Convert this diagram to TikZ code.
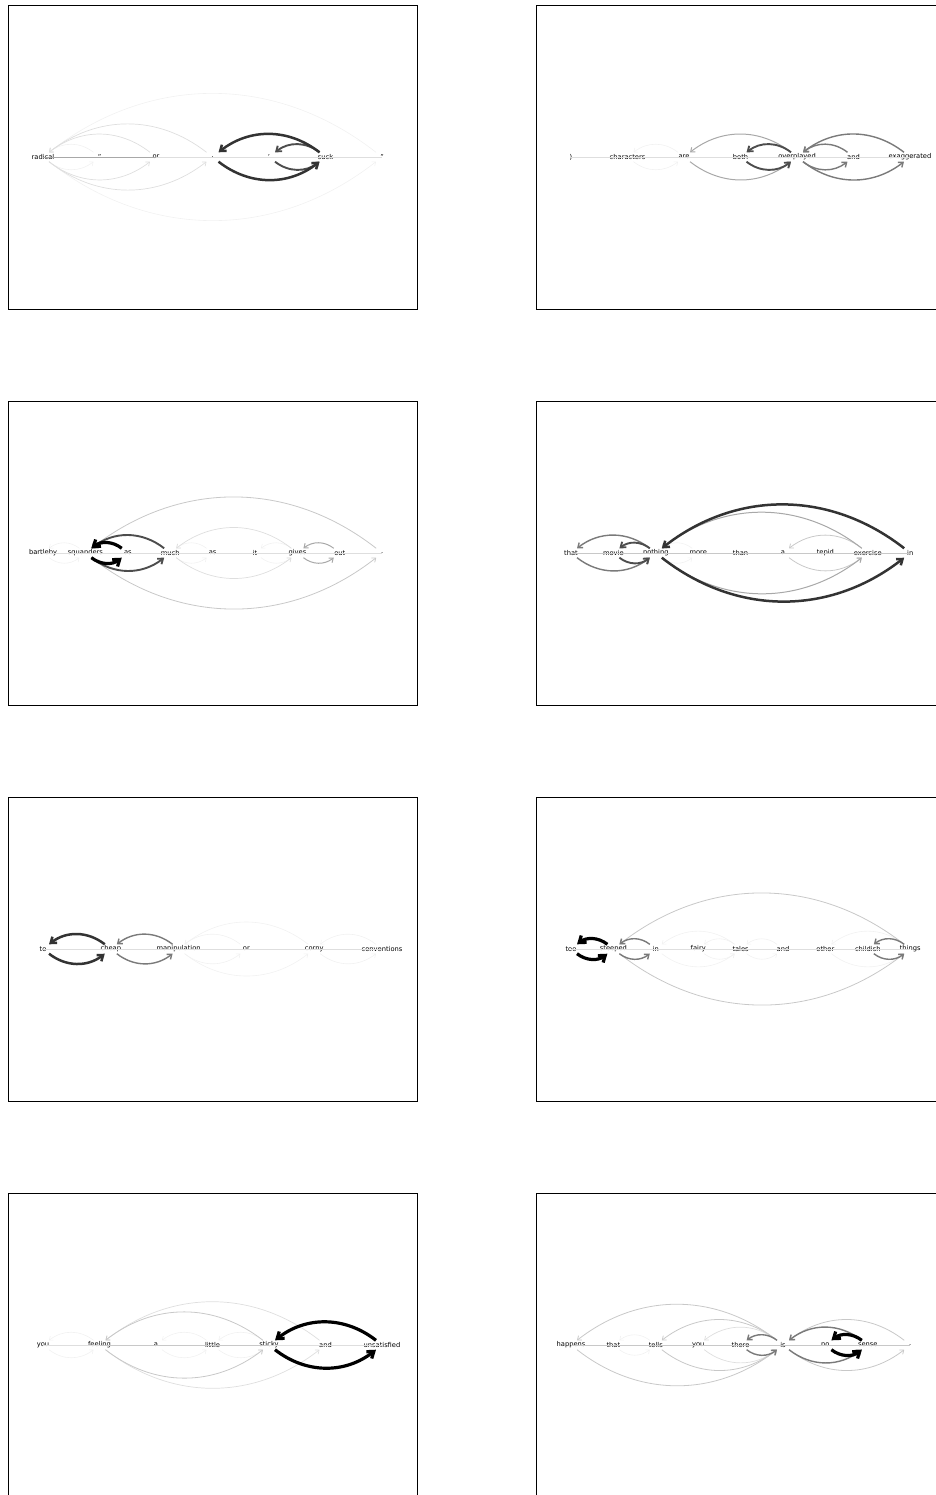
\documentclass[tikz,border=0pt]{standalone}
\usepackage{fontspec}
\setmainfont{DejaVu Sans}
\usetikzlibrary{
arrows.meta,
positioning
}
\definecolor{AttDark}{HTML}{333333}
\definecolor{AttMid}{HTML}{4D4D4D}
\definecolor{AttGray}{HTML}{7A7A7A}
\definecolor{AttLight}{HTML}{A8A8A8}
\definecolor{AttPale}{HTML}{C8C8C8}
\definecolor{AttFaint}{HTML}{DEDEDE}
\definecolor{AttGhost}{HTML}{F1F1F1}
\tikzset{
attframe/.style={draw=black, line width=0.9pt},
atttok/.style={inner sep=0pt, minimum width=12pt, minimum height=9pt,
  font=\fontsize{6.7}{8}\selectfont},
attaxis/.style={draw=AttFaint, line width=0.9pt},
attarrow/.style={-{Straight Barb[length=2.5pt 1.1, width=4.5pt 1.3]}, bend right=38, looseness=1},
attblack/.style={attarrow, draw=black, line width=3.2pt},
attdark/.style={attarrow, draw=AttDark, line width=2.5pt},
attmid/.style={attarrow, draw=AttMid, line width=1.9pt},
attgray/.style={attarrow, draw=AttGray, line width=1.4pt},
attlight/.style={attarrow, draw=AttLight, line width=1pt},
attpale/.style={attarrow, draw=AttPale, line width=0.8pt},
attfaint/.style={attarrow, draw=AttFaint, line width=0.7pt},
attghost/.style={attarrow, draw=AttGhost, line width=0.6pt}
}
\begin{document}
\begin{tikzpicture}[x=1pt, y=1pt]
\useasboundingbox (0,0) rectangle (935,-1495);

% row 1, left
\begin{scope}[shift={(8,-5)}, node distance=56.5pt, on grid]
\draw[attframe] (0,0) rectangle (409,-304);
\node[atttok] (a1) at (35,-152) {radical};
\node[atttok, right=of a1] (a2) {"};
\node[atttok, right=of a2] (a3) {or};
\node[atttok, right=of a3] (a4) {,};
\node[atttok, right=of a4] (a5) {'};
\node[atttok, right=of a5] (a6) {suck};
\node[atttok, right=of a6] (a7) {"};
\draw[attaxis] (a3.center) -- (a7.center);
\draw[attaxis, draw=AttLight] (a1.center) -- (a3.center);
\draw[attghost] (a7) to (a1);
\draw[attghost] (a1) to (a7);
\draw[attghost] (a2) to (a1);
\draw[attghost] (a1) to (a2);
\draw[attfaint] (a3) to (a1);
\draw[attfaint] (a1) to (a3);
\draw[attfaint] (a4) to (a1);
\draw[attfaint] (a1) to (a4);
\draw[attmid] (a6) to (a5);
\draw[attmid] (a5) to (a6);
\draw[attdark] (a6) to (a4);
\draw[attdark] (a4) to (a6);
\end{scope}

% row 1, right
\begin{scope}[shift={(536,-5)}, node distance=56.5pt, on grid]
\draw[attframe] (0,0) rectangle (409,-304);
\node[atttok] (b1) at (35,-152) {)};
\node[atttok, right=of b1] (b2) {characters};
\node[atttok, right=of b2] (b3) {are};
\node[atttok, right=of b3] (b4) {both};
\node[atttok, right=of b4] (b5) {overplayed};
\node[atttok, right=of b5] (b6) {and};
\node[atttok, right=of b6] (b7) {exaggerated};
\draw[attaxis] (b1.center) -- (b7.center);
\draw[attghost] (b3) to (b2);
\draw[attghost] (b2) to (b3);
\draw[attlight] (b5) to (b3);
\draw[attlight] (b3) to (b5);
\draw[attgray] (b7) to (b5);
\draw[attgray] (b5) to (b7);
\draw[attgray] (b6) to (b5);
\draw[attgray] (b5) to (b6);
\draw[attmid] (b5) to (b4);
\draw[attmid] (b4) to (b5);
\end{scope}

% row 2, left
\begin{scope}[shift={(8,-401)}, node distance=42.4pt, on grid]
\draw[attframe] (0,0) rectangle (409,-304);
\node[atttok] (c1) at (35,-152) {bartleby};
\node[atttok, right=of c1] (c2) {squanders};
\node[atttok, right=of c2] (c3) {as};
\node[atttok, right=of c3] (c4) {much};
\node[atttok, right=of c4] (c5) {as};
\node[atttok, right=of c5] (c6) {it};
\node[atttok, right=of c6] (c7) {gives};
\node[atttok, right=of c7] (c8) {out};
\node[atttok, right=of c8] (c9) {.};
\draw[attaxis] (c1.center) -- (c9.center);
\draw[attghost] (c2) to (c1);
\draw[attghost] (c1) to (c2);
\draw[attghost] (c5) to (c4);
\draw[attghost] (c4) to (c5);
\draw[attghost] (c7) to (c6);
\draw[attghost] (c6) to (c7);
\draw[attfaint] (c7) to (c4);
\draw[attfaint] (c4) to (c7);
\draw[attpale] (c9) to (c2);
\draw[attpale] (c2) to (c9);
\draw[attlight] (c8) to (c7);
\draw[attlight] (c7) to (c8);
\draw[attmid] (c4) to (c2);
\draw[attmid] (c2) to (c4);
\draw[attblack] (c3) to (c2);
\draw[attblack] (c2) to (c3);
\end{scope}

% row 2, right
\begin{scope}[shift={(536,-401)}, node distance=42.4pt, on grid]
\draw[attframe] (0,0) rectangle (409,-304);
\node[atttok] (d1) at (35,-152) {that};
\node[atttok, right=of d1] (d2) {movie};
\node[atttok, right=of d2] (d3) {nothing};
\node[atttok, right=of d3] (d4) {more};
\node[atttok, right=of d4] (d5) {than};
\node[atttok, right=of d5] (d6) {a};
\node[atttok, right=of d6] (d7) {tepid};
\node[atttok, right=of d7] (d8) {exercise};
\node[atttok, right=of d8] (d9) {in};
\draw[attaxis, draw=AttPale] (d1.center) -- (d9.center);
\draw[attghost] (d4) to (d3);
\draw[attghost] (d3) to (d4);
\draw[attpale] (d8) to (d6);
\draw[attpale] (d6) to (d8);
\draw[attlight] (d8) to (d3);
\draw[attlight] (d3) to (d8);
\draw[attgray] (d3) to (d1);
\draw[attgray] (d1) to (d3);
\draw[attmid] (d3) to (d2);
\draw[attmid] (d2) to (d3);
\draw[attdark] (d9) to (d3);
\draw[attdark] (d3) to (d9);
\end{scope}

% row 3, left
\begin{scope}[shift={(8,-797)}, node distance=67.8pt, on grid]
\draw[attframe] (0,0) rectangle (409,-304);
\node[atttok] (e1) at (35,-152) {to};
\node[atttok, right=of e1] (e2) {cheap};
\node[atttok, right=of e2] (e3) {manipulation};
\node[atttok, right=of e3] (e4) {or};
\node[atttok, right=of e4] (e5) {corny};
\node[atttok, right=of e5] (e6) {conventions};
\draw[attaxis] (e1.center) -- (e6.center);
\draw[attghost] (e5) to (e3);
\draw[attghost] (e3) to (e5);
\draw[attghost] (e4) to (e3);
\draw[attghost] (e3) to (e4);
\draw[attghost] (e6) to (e5);
\draw[attghost] (e5) to (e6);
\draw[attgray] (e3) to (e2);
\draw[attgray] (e2) to (e3);
\draw[attdark] (e2) to (e1);
\draw[attdark] (e1) to (e2);
\end{scope}

% row 3, right
\begin{scope}[shift={(536,-797)}, node distance=42.4pt, on grid]
\draw[attframe] (0,0) rectangle (409,-304);
\node[atttok] (f1) at (35,-152) {too};
\node[atttok, right=of f1] (f2) {steeped};
\node[atttok, right=of f2] (f3) {in};
\node[atttok, right=of f3] (f4) {fairy};
\node[atttok, right=of f4] (f5) {tales};
\node[atttok, right=of f5] (f6) {and};
\node[atttok, right=of f6] (f7) {other};
\node[atttok, right=of f7] (f8) {childish};
\node[atttok, right=of f8] (f9) {things};
\draw[attaxis] (f1.center) -- (f9.center);
\draw[attghost] (f5) to (f3);
\draw[attghost] (f3) to (f5);
\draw[attghost] (f5) to (f4);
\draw[attghost] (f4) to (f5);
\draw[attghost] (f6) to (f5);
\draw[attghost] (f5) to (f6);
\draw[attghost] (f9) to (f7);
\draw[attghost] (f7) to (f9);
\draw[attpale] (f9) to (f2);
\draw[attpale] (f2) to (f9);
\draw[attgray] (f3) to (f2);
\draw[attgray] (f2) to (f3);
\draw[attgray] (f9) to (f8);
\draw[attgray] (f8) to (f9);
\draw[attblack] (f2) to (f1);
\draw[attblack] (f1) to (f2);
\end{scope}

% row 4, left
\begin{scope}[shift={(8,-1193)}, node distance=56.5pt, on grid]
\draw[attframe] (0,0) rectangle (409,-304);
\node[atttok] (g1) at (35,-152) {you};
\node[atttok, right=of g1] (g2) {feeling};
\node[atttok, right=of g2] (g3) {a};
\node[atttok, right=of g3] (g4) {little};
\node[atttok, right=of g4] (g5) {sticky};
\node[atttok, right=of g5] (g6) {and};
\node[atttok, right=of g6] (g7) {unsatisfied};
\draw[attaxis] (g1.center) -- (g7.center);
\draw[attaxis, draw=AttPale] (g2.center) -- (g5.center);
\draw[attghost] (g2) to (g1);
\draw[attghost] (g1) to (g2);
\draw[attghost] (g4) to (g3);
\draw[attghost] (g3) to (g4);
\draw[attghost] (g5) to (g4);
\draw[attghost] (g4) to (g5);
\draw[attfaint] (g6) to (g2);
\draw[attfaint] (g2) to (g6);
\draw[attpale] (g5) to (g2);
\draw[attpale] (g2) to (g5);
\draw[attblack] (g7) to (g5);
\draw[attblack] (g5) to (g7);
\end{scope}

% row 4, right
\begin{scope}[shift={(536,-1193)}, node distance=42.4pt, on grid]
\draw[attframe] (0,0) rectangle (409,-304);
\node[atttok] (h1) at (35,-152) {happens};
\node[atttok, right=of h1] (h2) {that};
\node[atttok, right=of h2] (h3) {tells};
\node[atttok, right=of h3] (h4) {you};
\node[atttok, right=of h4] (h5) {there};
\node[atttok, right=of h5] (h6) {is};
\node[atttok, right=of h6] (h7) {no};
\node[atttok, right=of h7] (h8) {sense};
\node[atttok, right=of h8] (h9) {.};
\draw[attaxis, draw=AttPale] (h1.center) -- (h9.center);
\draw[attghost] (h3) to (h2);
\draw[attghost] (h2) to (h3);
\draw[attfaint] (h6) to (h4);
\draw[attfaint] (h4) to (h6);
\draw[attpale] (h6) to (h1);
\draw[attpale] (h1) to (h6);
\draw[attpale] (h6) to (h3);
\draw[attpale] (h3) to (h6);
\draw[attpale] (h9) to (h6);
\draw[attpale] (h6) to (h9);
\draw[attgray] (h8) to (h6);
\draw[attgray] (h6) to (h8);
\draw[attgray] (h6) to (h5);
\draw[attgray] (h5) to (h6);
\draw[attblack] (h8) to (h7);
\draw[attblack] (h7) to (h8);
\end{scope}
\end{tikzpicture}
\end{document}
